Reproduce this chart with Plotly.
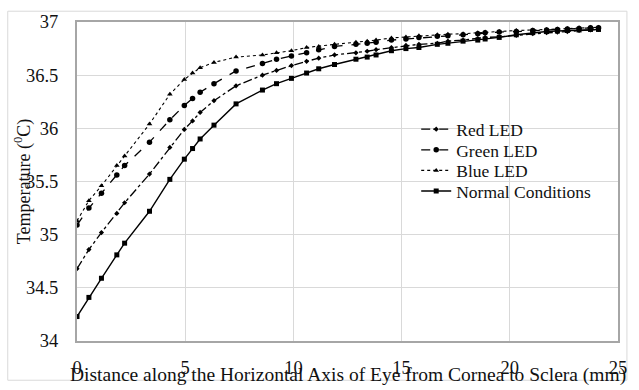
import plotly.graph_objects as go

x_mm = [0, 0.55, 1.13, 1.84, 2.2, 3.35, 4.29, 4.96, 5.34, 5.69, 6.33, 7.35, 8.57, 9.22, 9.91,
        10.61, 11.17, 11.9, 12.89, 13.41, 13.82, 14.53, 15.2, 15.8, 16.65, 17.14, 17.84,
        18.52, 18.86, 19.51, 20.3, 21.06, 21.7, 22.2, 22.66, 23.2, 23.73, 24.1]

red_led = [34.68, 34.86, 35.02, 35.20, 35.30, 35.57, 35.82, 35.99, 36.07, 36.15, 36.26, 36.40,
           36.50, 36.545, 36.59, 36.63, 36.66, 36.69, 36.71, 36.725, 36.74, 36.76, 36.78, 36.79,
           36.80, 36.82, 36.83, 36.845, 36.855, 36.86, 36.875, 36.89, 36.90, 36.905, 36.91,
           36.92, 36.925, 36.93]

green_led = [35.09, 35.25, 35.39, 35.56, 35.65, 35.87, 36.08, 36.215, 36.28, 36.34, 36.42, 36.54,
             36.61, 36.65, 36.68, 36.71, 36.74, 36.77, 36.79, 36.80, 36.81, 36.83, 36.84, 36.855,
             36.865, 36.87, 36.88, 36.89, 36.90, 36.905, 36.91, 36.92, 36.925, 36.93, 36.935,
             36.94, 36.945, 36.945]

blue_led = [35.13, 35.32, 35.46, 35.65, 35.74, 36.04, 36.32, 36.46, 36.52, 36.57, 36.62, 36.67,
            36.69, 36.71, 36.73, 36.76, 36.77, 36.79, 36.81, 36.82, 36.83, 36.85, 36.86, 36.87,
            36.88, 36.885, 36.89, 36.90, 36.905, 36.91, 36.92, 36.925, 36.93, 36.935, 36.94,
            36.945, 36.95, 36.95]

normal = [34.23, 34.41, 34.59, 34.81, 34.92, 35.22, 35.52, 35.71, 35.81, 35.90, 36.03, 36.23,
          36.36, 36.42, 36.47, 36.52, 36.56, 36.60, 36.65, 36.67, 36.69, 36.73, 36.75, 36.76,
          36.79, 36.80, 36.82, 36.83, 36.84, 36.855, 36.88, 36.90, 36.91, 36.915, 36.92,
          36.925, 36.93, 36.93]

series_names = ["Red LED", "Green LED", "Blue LED", "Normal Conditions"]
x_ticks = [0, 5, 10, 15, 20, 25]
y_ticks = [34, 34.5, 35, 35.5, 36, 36.5, 37]
y_ticklabels = ["34", "34.5", "35", "35.5", "36", "36.5", "37"]

FONT = "Liberation Serif"
TXT = "#111111"

fig = go.Figure()
fig.add_trace(go.Scatter(x=x_mm, y=red_led, name=series_names[0], mode="lines+markers",
                         legend="legend",
                         line=dict(color="black", width=1.3, dash="dashdot"),
                         marker=dict(symbol="diamond", size=4, color="black")))
fig.add_trace(go.Scatter(x=x_mm, y=green_led, name=series_names[1], mode="lines+markers",
                         legend="legend2",
                         line=dict(color="black", width=1.3, dash="dash"),
                         marker=dict(symbol="circle", size=5.5, color="black")))
fig.add_trace(go.Scatter(x=x_mm, y=blue_led, name=series_names[2], mode="lines+markers",
                         legend="legend3",
                         line=dict(color="black", width=1.1, dash="dot"),
                         marker=dict(symbol="triangle-up", size=5, color="black")))
fig.add_trace(go.Scatter(x=x_mm, y=normal, name=series_names[3], mode="lines+markers",
                         legend="legend4",
                         line=dict(color="black", width=1.4, dash="solid"),
                         marker=dict(symbol="square", size=5, color="black")))

def leg(ytop):
    return dict(x=0.627, y=ytop, xanchor="left", yanchor="top",
                bgcolor="rgba(0,0,0,0)", font=dict(size=17.5, family=FONT, color=TXT),
                itemwidth=30)

fig.update_layout(
    width=639, height=390,
    margin=dict(l=77, r=15, t=20, b=45),
    paper_bgcolor="white", plot_bgcolor="white",
    font=dict(family=FONT, size=18, color=TXT),
    showlegend=True,
    legend=leg(0.72), legend2=leg(0.6554), legend3=leg(0.5908), legend4=leg(0.5262),
    xaxis=dict(range=[0, 25], tickvals=x_ticks, showgrid=True,
               gridcolor="#d9d9d9", gridwidth=1, showline=True, linecolor="#a6a6a6",
               linewidth=2, mirror=True, zeroline=False, ticks="outside", ticklen=9,
               tickcolor="rgba(0,0,0,0)", tickfont=dict(size=18.5, family=FONT, color=TXT)),
    yaxis=dict(range=[34, 37], tickvals=y_ticks, ticktext=y_ticklabels, showgrid=True,
               gridcolor="#d9d9d9", gridwidth=1, showline=True, linecolor="#a6a6a6",
               linewidth=2, mirror=True, zeroline=False, ticks="outside", ticklen=13,
               tickcolor="rgba(0,0,0,0)", tickfont=dict(size=18.5, family=FONT, color=TXT)),
    annotations=[
        dict(text="Distance along the Horizontal Axis of Eye from Cornea to Sclera (mm)",
             x=0.5, y=-0.108, xref="paper", yref="paper", xanchor="center",
             yanchor="middle", showarrow=False, font=dict(size=19.5, family=FONT, color=TXT)),
        dict(text="Temperature (<sup>0</sup>C)", x=-0.1005, y=0.5, xref="paper",
             yref="paper", xanchor="center", yanchor="middle", textangle=-90,
             showarrow=False, font=dict(size=18, family=FONT, color=TXT)),
    ],
    shapes=[dict(type="rect", xref="paper", yref="paper", x0=-0.128, x1=1.0165,
                 y0=-0.123, y1=1.0338, line=dict(color="#d9d9d9", width=1),
                 fillcolor="rgba(0,0,0,0)", layer="below")],
)

fig.write_html("out.html")
